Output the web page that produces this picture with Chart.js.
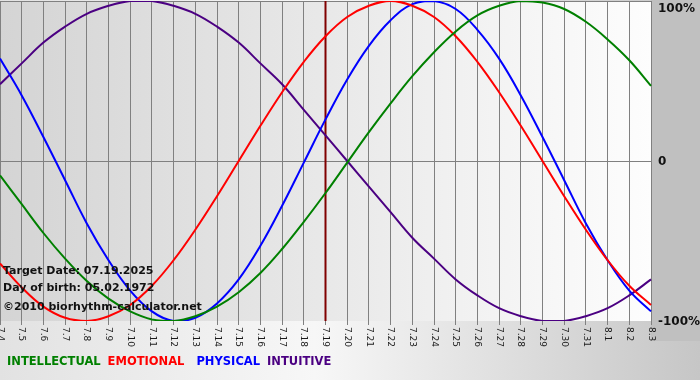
<!DOCTYPE html>
<html><head><meta charset="utf-8">
<script src="https://cdn.jsdelivr.net/npm/chart.js@4"></script>
<style>html,body{margin:0;padding:0;background:#fff}#wrap{width:700px;height:380px}</style>
</head><body><div id="wrap"><canvas id="c" width="700" height="380"></canvas></div>
<script>
const days = ['7.4','7.5','7.6','7.7','7.8','7.9','7.10','7.11','7.12','7.13','7.14','7.15','7.16','7.17','7.18','7.19','7.20','7.21','7.22','7.23','7.24','7.25','7.26','7.27','7.28','7.29','7.30','7.31','8.1','8.2','8.3'];
const intellectual = [-9,-27,-45,-61,-75,-86,-94,-99,-100,-97,-91,-82,-70,-55,-38,-20,-1,18,36,53,68,81,91,97,100,99,95,87,76,63,47];
const emotional = [-64,-79,-91,-98,-100,-97,-90,-78,-62,-43,-22,0,22,43,62,78,90,97,100,97,90,78,62,43,22,0,-22,-43,-62,-78,-90];
const physical = [64,41,15,-12,-39,-62,-81,-94,-100,-98,-89,-74,-53,-28,-1,26,51,72,88,98,100,95,82,64,41,15,-12,-39,-62,-81,-94];
const intuitive = [48,61,74,84,92,97,100,100,97,92,84,74,61,48,32,16,0,-16,-32,-48,-61,-74,-84,-92,-97,-100,-100,-97,-92,-84,-74];
const yTicks = [-100, 0, 100];
const yTickLabels = ['-100%', '0', '100%'];
const targetDay = '7.19';
const infoLines = ['Target Date: 07.19.2025', 'Day of birth: 05.02.1972', '\u00A92010 biorhythm-calculator.net'];
const seriesNames = ['INTELLECTUAL', 'EMOTIONAL', 'PHYSICAL', 'INTUITIVE'];
const seriesColors = ['#008000', '#ff0000', '#0000ff', '#4b0082'];
const seriesData = [intellectual, emotional, physical, intuitive];

const decor = {
  id: 'decor',
  beforeDraw(chart) {
    const {ctx, chartArea: a, width, height} = chart;
    ctx.save();
    let g = ctx.createLinearGradient(0, 0, width, 0);
    g.addColorStop(0, '#e2e2e2'); g.addColorStop(0.45, '#f7f7f7'); g.addColorStop(1, '#c6c6c6');
    ctx.fillStyle = g; ctx.fillRect(0, 0, width, height);
    ctx.fillStyle = '#c0c0c0'; ctx.fillRect(a.right, 0, width - a.right, a.bottom + 20);
    g = ctx.createLinearGradient(a.left, 0, a.right, 0);
    g.addColorStop(0, '#d4d4d4'); g.addColorStop(1, '#fdfdfd');
    ctx.fillStyle = g; ctx.fillRect(a.left, a.top, a.right - a.left, a.bottom - a.top);
    ctx.restore();
  },
  beforeDatasetsDraw(chart) {
    const {ctx, chartArea: a} = chart;
    const x = chart.scales.x.getPixelForValue(days.indexOf(targetDay));
    ctx.save();
    ctx.strokeStyle = '#800000'; ctx.lineWidth = 2;
    ctx.beginPath(); ctx.moveTo(x, a.top); ctx.lineTo(x, a.bottom); ctx.stroke();
    ctx.restore();
  },
  afterDatasetsDraw(chart) {
    const {ctx, chartArea: a} = chart;
    ctx.save();
    ctx.font = 'bold 11px "DejaVu Sans"';
    ctx.fillStyle = '#111';
    ctx.textBaseline = 'middle'; ctx.textAlign = 'left';
    const ys = [271, 288, 307];
    infoLines.forEach((t, i) => ctx.fillText(t, a.left + 3, ys[i]));
    ctx.restore();
  },
  afterDraw(chart) {
    const {ctx, chartArea: a} = chart;
    const xs = chart.scales.x, ys = chart.scales.y;
    ctx.save();
    ctx.font = '9px "DejaVu Sans"';
    ctx.fillStyle = '#1a1a1a';
    ctx.textAlign = 'left'; ctx.textBaseline = 'middle';
    days.forEach((d, i) => {
      const x = xs.getPixelForValue(i);
      ctx.save();
      ctx.translate(x, a.bottom + 6);
      ctx.rotate(Math.PI / 2);
      ctx.fillText(d, 0, 0);
      ctx.restore();
    });
    ctx.font = 'bold 12px "DejaVu Sans"';
    ctx.fillStyle = '#111';
    yTicks.forEach((v, i) => {
      let y = ys.getPixelForValue(v);
      if (y < a.top + 7) y = a.top + 7;
      ctx.fillText(yTickLabels[i], a.right + 7, y + 1);
    });
    ctx.font = 'bold 11.5px "DejaVu Sans"';
    let lx = 7;
    const gaps = [7, 12, 7, 0];
    seriesNames.forEach((n, i) => {
      ctx.fillStyle = seriesColors[i];
      ctx.fillText(n, lx, 362);
      lx += ctx.measureText(n).width + gaps[i];
    });
    ctx.restore();
  }
};

new Chart(document.getElementById('c'), {
  type: 'line',
  data: {
    labels: days,
    datasets: seriesNames.map((n, i) => ({
      label: n,
      data: seriesData[i],
      borderColor: seriesColors[i],
      borderWidth: 2,
      pointRadius: 0,
      tension: 0.4,
      fill: false
    }))
  },
  options: {
    responsive: false,
    animation: false,
    devicePixelRatio: 1,
    layout: {padding: {left: 0, right: 49, top: 1, bottom: 55}},
    plugins: {legend: {display: false}, tooltip: {enabled: false}},
    scales: {
      x: {
        offset: false,
        grid: {color: '#808080', lineWidth: 1, drawTicks: true, tickLength: 4},
        border: {display: false},
        ticks: {display: false}
      },
      y: {
        position: 'right',
        min: -100, max: 100,
        ticks: {display: false, stepSize: 100},
        grid: {color: (c) => c.tick && c.tick.value === -100 ? 'rgba(0,0,0,0)' : '#808080', drawTicks: false},
        border: {display: false}
      }
    }
  },
  plugins: [decor]
});
</script>
</body></html>
